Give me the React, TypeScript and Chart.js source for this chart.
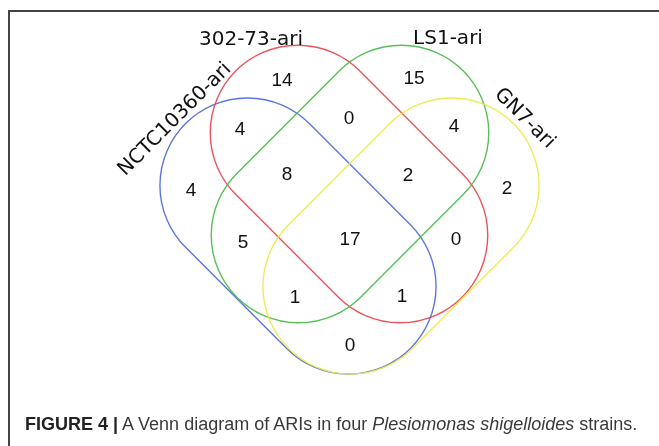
import React, { useEffect, useRef } from "react";
import { Chart, registerables } from "chart.js";

Chart.register(...registerables);

// ---- Sets (capsule-shaped outlines) ----
const setNames = ["NCTC10360-ari", "302-73-ari", "LS1-ari", "GN7-ari"];
const setColors = ["#4a68d8", "#e8434a", "#45b845", "#ecea45"];
const shapeCX = [298, 349, 350, 401];
const shapeCY = [236, 184, 184, 236];
const shapeHalfLength = [159, 160, 160, 159]; // centre to tip
const shapeHalfWidth = [87.5, 87.5, 87.5, 87.5];
const shapeAngle = [45, 45, -45, -45];

// set-name label anchors (visual centers) and rotation
const setLabelX = [173.5, 251, 448, 526];
const setLabelY = [118, 37.5, 37, 117];
const setLabelRot = [-45, 0, 0, 45];

// ---- Region counts ----
const regionCounts = [14, 15, 4, 0, 4, 4, 8, 2, 2, 5, 17, 0, 1, 1, 0];
const regionX = [282, 414, 240, 349, 454, 191, 287, 408, 507, 243, 350, 456, 295, 402, 350];
const regionY = [79, 77, 128, 117, 125, 189, 173, 174, 187, 241, 238, 238, 296, 295, 344];

const W = 659;
const H = 446;

const vennPlugin = {
  id: "venn",
  afterDatasetsDraw(chart: any) {
    const { ctx, scales } = chart;
    const xs = scales.x;
    const ys = scales.y;
    const ux = Math.abs(xs.getPixelForValue(1) - xs.getPixelForValue(0));
    ctx.save();
    for (let i = 0; i < shapeCX.length; i++) {
      const cx = xs.getPixelForValue(shapeCX[i]);
      const cy = ys.getPixelForValue(shapeCY[i]);
      const r = shapeHalfWidth[i] * ux;
      const c = (shapeHalfLength[i] - shapeHalfWidth[i]) * ux;
      ctx.save();
      ctx.translate(cx, cy);
      ctx.rotate((shapeAngle[i] * Math.PI) / 180);
      ctx.beginPath();
      ctx.arc(c, 0, r, -Math.PI / 2, Math.PI / 2);
      ctx.lineTo(-c, r);
      ctx.arc(-c, 0, r, Math.PI / 2, (3 * Math.PI) / 2);
      ctx.closePath();
      ctx.restore();
      ctx.strokeStyle = setColors[i];
      ctx.globalAlpha = 0.9;
      ctx.lineWidth = 1.4;
      ctx.stroke();
    }
    ctx.globalAlpha = 1;
    // region counts
    const countMeta = chart.getDatasetMeta(0);
    const cSize = 19;
    ctx.font = `${cSize}px "Liberation Sans", Arial, sans-serif`;
    ctx.fillStyle = "#111";
    ctx.textAlign = "center";
    ctx.textBaseline = "alphabetic";
    countMeta.data.forEach((el: any, i: number) => {
      ctx.fillText(String(regionCounts[i]), el.x, el.y + cSize * 0.358);
    });
    // set labels
    const labelMeta = chart.getDatasetMeta(1);
    const lSize = 20;
    ctx.font = `${lSize}px "DejaVu Sans", sans-serif`;
    labelMeta.data.forEach((el: any, i: number) => {
      ctx.save();
      ctx.translate(el.x, el.y);
      ctx.rotate((setLabelRot[i] * Math.PI) / 180);
      ctx.fillText(setNames[i], 0, lSize * 0.365);
      ctx.restore();
    });
    ctx.restore();
  },
};

export default function App() {
  const ref = useRef<HTMLCanvasElement | null>(null);
  useEffect(() => {
    if (!ref.current) return;
    const chart = new Chart(ref.current, {
      type: "scatter",
      data: {
        datasets: [
          {
            label: "counts",
            data: regionCounts.map((_, i) => ({ x: regionX[i], y: regionY[i] })),
            pointRadius: 0,
          },
          {
            label: "sets",
            data: setNames.map((_, i) => ({ x: setLabelX[i], y: setLabelY[i] })),
            pointRadius: 0,
          },
        ],
      },
      options: {
        animation: false,
        responsive: false,
        maintainAspectRatio: false,
        layout: { padding: 0 },
        plugins: { legend: { display: false }, tooltip: { enabled: false } },
        scales: {
          x: { type: "linear", min: 0, max: W, display: false },
          y: { type: "linear", min: 0, max: H, reverse: true, display: false },
        },
      },
      plugins: [vennPlugin],
    });
    return () => chart.destroy();
  }, []);

  return (
    <div style={{ position: "fixed", left: 0, top: 0, width: W, height: H, background: "#fff", overflow: "hidden" }}>
      <div
        style={{
          position: "absolute",
          left: 8,
          top: 10,
          width: W,
          height: H,
          borderTop: "2px solid #444",
          borderLeft: "2px solid #444",
        }}
      />
      <canvas ref={ref} width={W} height={H} style={{ position: "absolute", left: 0, top: 0, width: W, height: H }} />
      <div
        style={{
          position: "absolute",
          left: 25,
          top: 415,
          fontFamily: '"Liberation Sans", Arial, sans-serif',
          fontSize: 18,
          lineHeight: "18px",
          color: "#3a3a3a",
          whiteSpace: "nowrap",
        }}
      >
        <b style={{ color: "#222" }}>FIGURE 4 |</b> A Venn diagram of ARIs in four <i>Plesiomonas shigelloides</i> strains.
      </div>
    </div>
  );
}
